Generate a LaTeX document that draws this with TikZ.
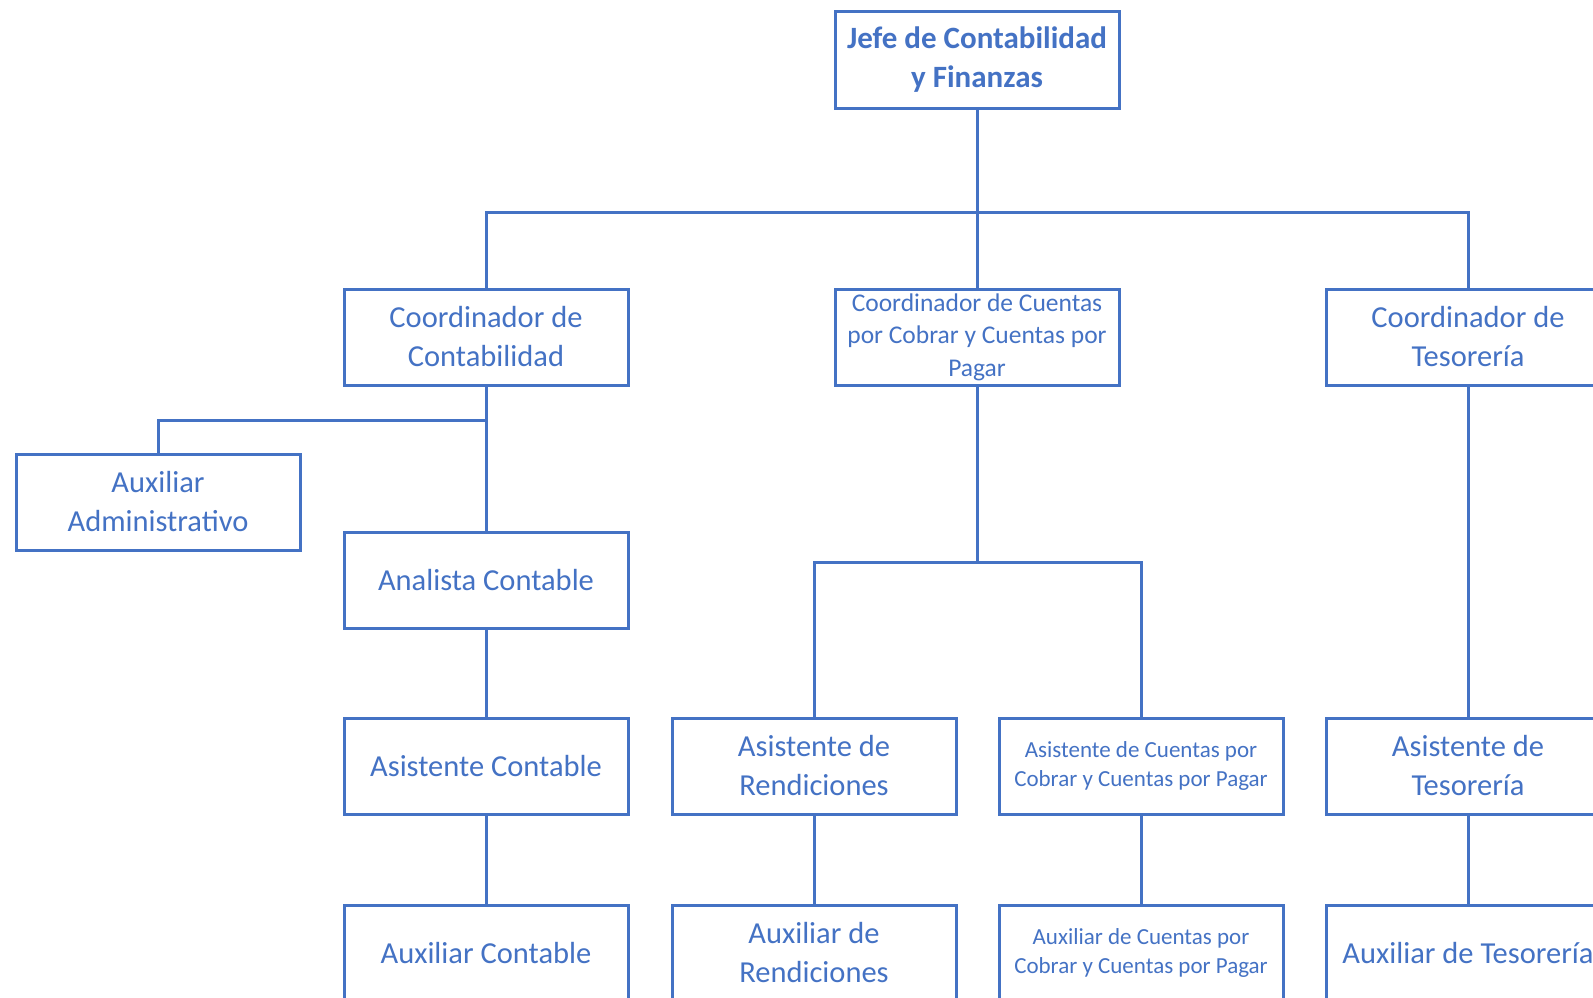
\documentclass[tikz,border=0pt]{standalone}
\usepackage{fontspec}
\setmainfont{Carlito}
\definecolor{orgblue}{RGB}{68,114,196}
\begin{document}
\begin{tikzpicture}[x=1pt,y=-1pt,
  unit/.style={draw=orgblue, line width=3pt, fill=white, text=orgblue,
    minimum width=284pt, minimum height=96pt, inner sep=0pt, align=center,
    font=\fontsize{30.5}{39}\selectfont},
  smalltext/.style={font=\fontsize{25.5}{32.5}\selectfont},
  tinytext/.style={font=\fontsize{23}{29.5}\selectfont},
  link/.style={draw=orgblue, line width=3pt}]
\useasboundingbox (0,0) rectangle (1593,998);
\clip (0,0) rectangle (1593,998);

% top level
\node[unit, font=\bfseries\fontsize{31}{39}\selectfont] (jefe) at (977,60) {Jefe de Contabilidad\\y Finanzas};

% coordinators
\node[unit] (ccont) at (486,337) {Coordinador de\\Contabilidad};
\node[unit, smalltext] (ccxc) at (977,337) {Coordinador de Cuentas\\por Cobrar y Cuentas por\\Pagar};
\node[unit] (ctes) at (1468,337) {Coordinador de\\Tesorería};

% accounting branch
\node[unit] (auxadm) at (158,502) {Auxiliar\\Administrativo};
\node[unit] (analista) at (486,580) {Analista Contable};
\node[unit] (asiscont) at (486,766) {Asistente Contable};
\node[unit] (auxcont) at (486,953) {Auxiliar Contable};

% receivables / payables branch
\node[unit] (asisrend) at (814,766) {Asistente de\\Rendiciones};
\node[unit, tinytext] (asiscxc) at (1141,766) {Asistente de Cuentas por\\Cobrar y Cuentas por Pagar};
\node[unit] (auxrend) at (814,953) {Auxiliar de\\Rendiciones};
\node[unit, tinytext] (auxcxc) at (1141,953) {Auxiliar de Cuentas por\\Cobrar y Cuentas por Pagar};

% treasury branch
\node[unit] (asistes) at (1468,766) {Asistente de\\Tesorería};
\node[unit] (auxtes) at (1468,953) {Auxiliar de Tesorería};

% bus junctions
\coordinate (busA) at (977,212);
\coordinate (busB) at (486,420);
\coordinate (busC) at (977,562);

% connectors
\draw[link] (jefe.south) -- (busA);
\draw[link] (ccont.north) |- (busA) -| (ctes.north);
\draw[link] (busA) -- (ccxc.north);

\draw[link] (ccont.south) -- (analista.north);
\draw[link] (busB) -| (auxadm.north);
\draw[link] (analista.south) -- (asiscont.north);
\draw[link] (asiscont.south) -- (auxcont.north);

\draw[link] (ccxc.south) -- (busC);
\draw[link] (asisrend.north) |- (busC) -| (asiscxc.north);
\draw[link] (asisrend.south) -- (auxrend.north);
\draw[link] (asiscxc.south) -- (auxcxc.north);

\draw[link] (ctes.south) -- (asistes.north);
\draw[link] (asistes.south) -- (auxtes.north);
\end{tikzpicture}
\end{document}
